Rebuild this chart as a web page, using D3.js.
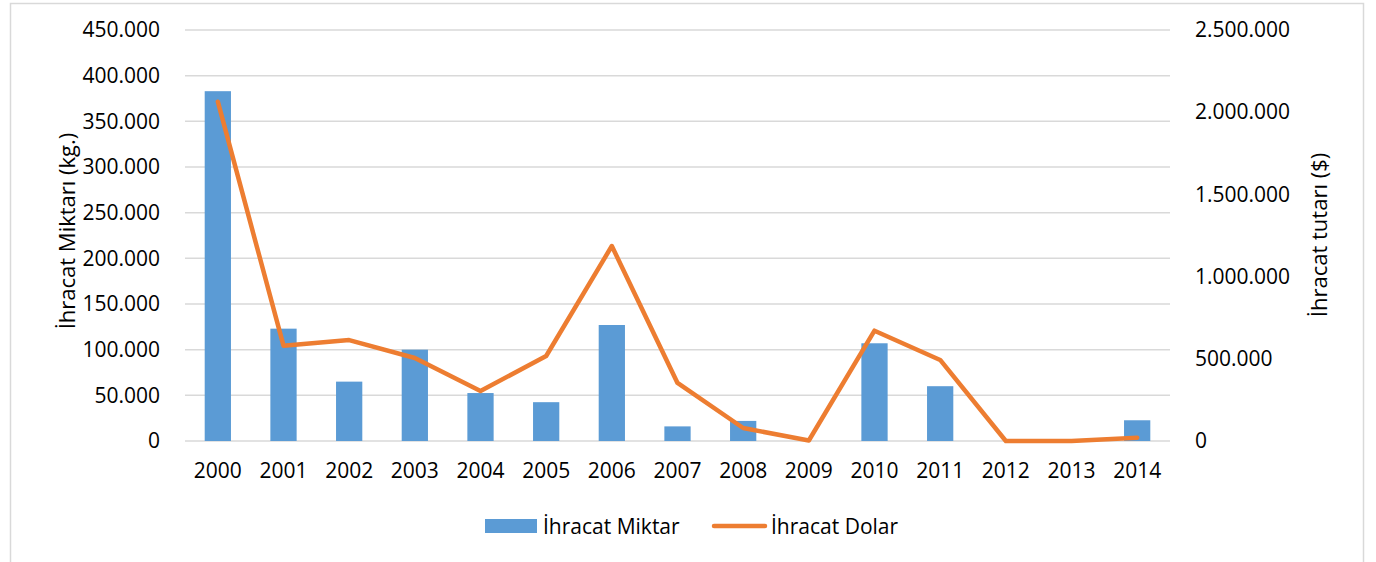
<!DOCTYPE html>
<html>
<head>
<meta charset="utf-8">
<script src="https://cdn.jsdelivr.net/npm/d3@7"></script>
<style>
  body { margin: 0; background: #fff; }
  svg text { font-family: "Open Sans", sans-serif; fill: #000; }
</style>
</head>
<body>
<div id="chart"></div>
<script>
// data
var years = ['2000', '2001', '2002', '2003', '2004', '2005', '2006', '2007',
  '2008', '2009', '2010', '2011', '2012', '2013', '2014'];
var miktarKg = [383000, 123000, 65000, 100000, 52500, 42500, 127000, 16000,
  22000, 0, 107000, 60000, 0, 0, 22700];
var dolarUsd = [2064000, 580000, 614000, 505000, 304000, 517000, 1186000, 353000,
  79000, 3000, 671000, 493000, 0, 0, 20000];
var leftTicks = [0, 50000, 100000, 150000, 200000, 250000, 300000, 350000, 400000, 450000];
var rightTicks = [0, 500000, 1000000, 1500000, 2000000, 2500000];

var W = 1376, H = 562;
var plot = { left: 185, right: 1170, top: 30, bottom: 441 };
var tickFont = 21;

var trFormat = function (v) {
  return d3.format(',')(v).replace(/,/g, '.');
};

var svg = d3.select('#chart').append('svg')
  .attr('width', W)
  .attr('height', H);

// chart frame
svg.append('rect')
  .attr('x', 10.5).attr('y', 3.5)
  .attr('width', 1353).attr('height', 570)
  .attr('fill', '#fff')
  .attr('stroke', '#d9d9d9')
  .attr('stroke-width', 1.5);

var x = d3.scaleBand()
  .domain(years)
  .range([plot.left, plot.right])
  .paddingInner(0.6)
  .paddingOuter(0.3);

var yLeft = d3.scaleLinear().domain([0, 450000]).range([plot.bottom, plot.top]);
var yRight = d3.scaleLinear().domain([0, 2500000]).range([plot.bottom, plot.top]);

// gridlines
svg.append('g').selectAll('line')
  .data(leftTicks)
  .join('line')
  .attr('x1', plot.left).attr('x2', plot.right)
  .attr('y1', function (d) { return yLeft(d); })
  .attr('y2', function (d) { return yLeft(d); })
  .attr('stroke', '#d9d9d9')
  .attr('stroke-width', 1.5);

// left axis
var leftAxis = svg.append('g')
  .attr('transform', 'translate(' + (plot.left - 22) + ',0)')
  .call(d3.axisLeft(yLeft).tickValues(leftTicks).tickFormat(trFormat).tickSize(0));
leftAxis.select('.domain').remove();
leftAxis.selectAll('text').attr('font-size', tickFont).attr('font-family', '"Open Sans", sans-serif');

// right axis
var rightAxis = svg.append('g')
  .attr('transform', 'translate(' + (plot.right + 22) + ',0)')
  .call(d3.axisRight(yRight).tickValues(rightTicks).tickFormat(trFormat).tickSize(0));
rightAxis.select('.domain').remove();
rightAxis.selectAll('text').attr('font-size', tickFont).attr('font-family', '"Open Sans", sans-serif');

// bottom axis
var bottomAxis = svg.append('g')
  .attr('transform', 'translate(0,' + plot.bottom + ')')
  .call(d3.axisBottom(x).tickSize(0).tickPadding(22));
bottomAxis.select('.domain').remove();
bottomAxis.selectAll('text').attr('font-size', tickFont).attr('font-family', '"Open Sans", sans-serif');

// bars
svg.append('g').selectAll('rect')
  .data(years)
  .join('rect')
  .attr('x', function (d) { return x(d); })
  .attr('width', x.bandwidth())
  .attr('y', function (d, i) { return yLeft(miktarKg[i]); })
  .attr('height', function (d, i) { return plot.bottom - yLeft(miktarKg[i]); })
  .attr('fill', '#5b9bd5');

// line
var line = d3.line()
  .x(function (d, i) { return x(years[i]) + x.bandwidth() / 2; })
  .y(function (d) { return yRight(d); });

svg.append('path')
  .datum(dolarUsd)
  .attr('d', line)
  .attr('fill', 'none')
  .attr('stroke', '#ed7d31')
  .attr('stroke-width', 4.5)
  .attr('stroke-linejoin', 'round')
  .attr('stroke-linecap', 'round');

// axis titles
svg.append('text')
  .attr('transform', 'translate(75,231) rotate(-90)')
  .attr('text-anchor', 'middle')
  .attr('font-size', 22)
  .text('İhracat Miktarı (kg.)');

svg.append('text')
  .attr('transform', 'translate(1327,235) rotate(-90)')
  .attr('text-anchor', 'middle')
  .attr('font-size', 22)
  .text('İhracat tutarı ($)');

// legend
var legend = svg.append('g');
legend.append('rect')
  .attr('x', 485).attr('y', 519)
  .attr('width', 52).attr('height', 14)
  .attr('fill', '#5b9bd5');
legend.append('text')
  .attr('x', 543).attr('y', 534)
  .attr('font-size', tickFont)
  .text('İhracat Miktar');
legend.append('line')
  .attr('x1', 714).attr('x2', 765)
  .attr('y1', 526).attr('y2', 526)
  .attr('stroke', '#ed7d31')
  .attr('stroke-width', 4.5)
  .attr('stroke-linecap', 'round');
legend.append('text')
  .attr('x', 771).attr('y', 534)
  .attr('font-size', tickFont)
  .text('İhracat Dolar');
</script>
</body>
</html>
